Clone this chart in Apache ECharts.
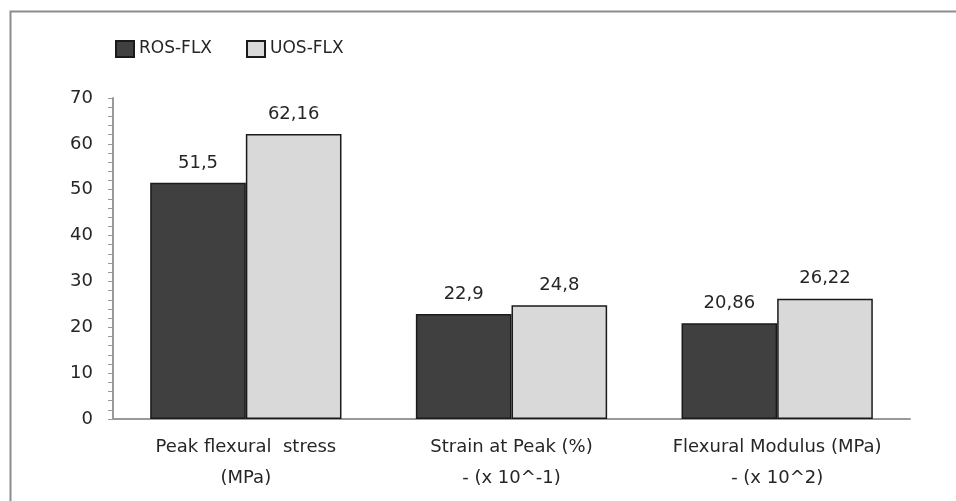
<!doctype html>
<html lang="en">
<head>
    <meta charset="utf-8">
    <title>Flexural properties</title>
    <script src="https://cdn.jsdelivr.net/npm/echarts@6/dist/echarts.min.js"></script>
    <style>
        html, body { margin: 0; padding: 0; background: #fff; }
    </style>
</head>
<body>

<div id="main" style="width:956px;height:501px;"></div>

<script>
    // categories + series values
    var categories = [
        'Peak flexural  stress\n(MPa)',
        'Strain at Peak (%)\n- (x 10^-1)',
        'Flexural Modulus (MPa)\n- (x 10^2)'
    ];
    var rosValues = [51.5, 22.9, 20.86];
    var uosValues = [62.16, 24.8, 26.22];
    var seriesNames = ['ROS-FLX', 'UOS-FLX'];

    var font = '"DejaVu Sans", Verdana, sans-serif';
    var textColor = '#262626';

    var myChart = echarts.init(document.getElementById('main'));

    // decimal comma like the original
    var fmt = function(p) {
        return String(p.value).replace('.', ',');
    };

    var option = {
        backgroundColor: '#fff',
        animation: false,
        graphic: [{
            type: 'rect',
            shape: { x: 10.5, y: 11.5, width: 1000, height: 600 },
            style: { fill: 'none', stroke: '#8c8c8c', lineWidth: 2 },
            silent: true
        }],
        legend: {
            left: 110,
            top: 35,
            itemWidth: 18,
            itemHeight: 16,
            itemGap: 34,
            icon: 'rect',
            textStyle: { fontFamily: font, fontSize: 17, color: textColor },
            data: seriesNames
        },
        grid: {
            left: 113,
            right: 46,
            top: 98,
            bottom: 82
        },
        xAxis: {
            type: 'category',
            data: categories,
            axisLine: { lineStyle: { color: '#999', width: 2 } },
            axisTick: { show: false },
            axisLabel: {
                fontFamily: font,
                fontSize: 18,
                color: textColor,
                lineHeight: 31,
                margin: 13,
                interval: 0
            }
        },
        yAxis: {
            type: 'value',
            min: 0,
            max: 70,
            interval: 10,
            splitLine: { show: false },
            axisLine: { show: true, lineStyle: { color: '#999', width: 2 } },
            axisTick: { show: true, length: 5, lineStyle: { color: '#999' } },
            minorTick: { show: true, splitNumber: 5, length: 5, lineStyle: { color: '#999' } },
            axisLabel: {
                fontFamily: font,
                fontSize: 18,
                color: textColor,
                margin: 20
            }
        },
        series: [{
            name: seriesNames[0],
            type: 'bar',
            data: rosValues,
            barGap: 0,
            barCategoryGap: '28%',
            itemStyle: { color: '#404040', borderColor: '#1a1a1a', borderWidth: 1.5 },
            label: {
                show: true,
                position: 'top',
                distance: 11,
                formatter: fmt,
                fontFamily: font,
                fontSize: 18,
                color: textColor
            }
        }, {
            name: seriesNames[1],
            type: 'bar',
            data: uosValues,
            barGap: 0,
            barCategoryGap: '28%',
            itemStyle: { color: '#d9d9d9', borderColor: '#1a1a1a', borderWidth: 1.5 },
            label: {
                show: true,
                position: 'top',
                distance: 11,
                formatter: fmt,
                fontFamily: font,
                fontSize: 18,
                color: textColor
            }
        }]
    };

    myChart.setOption(option);
</script>
</body>
</html>
